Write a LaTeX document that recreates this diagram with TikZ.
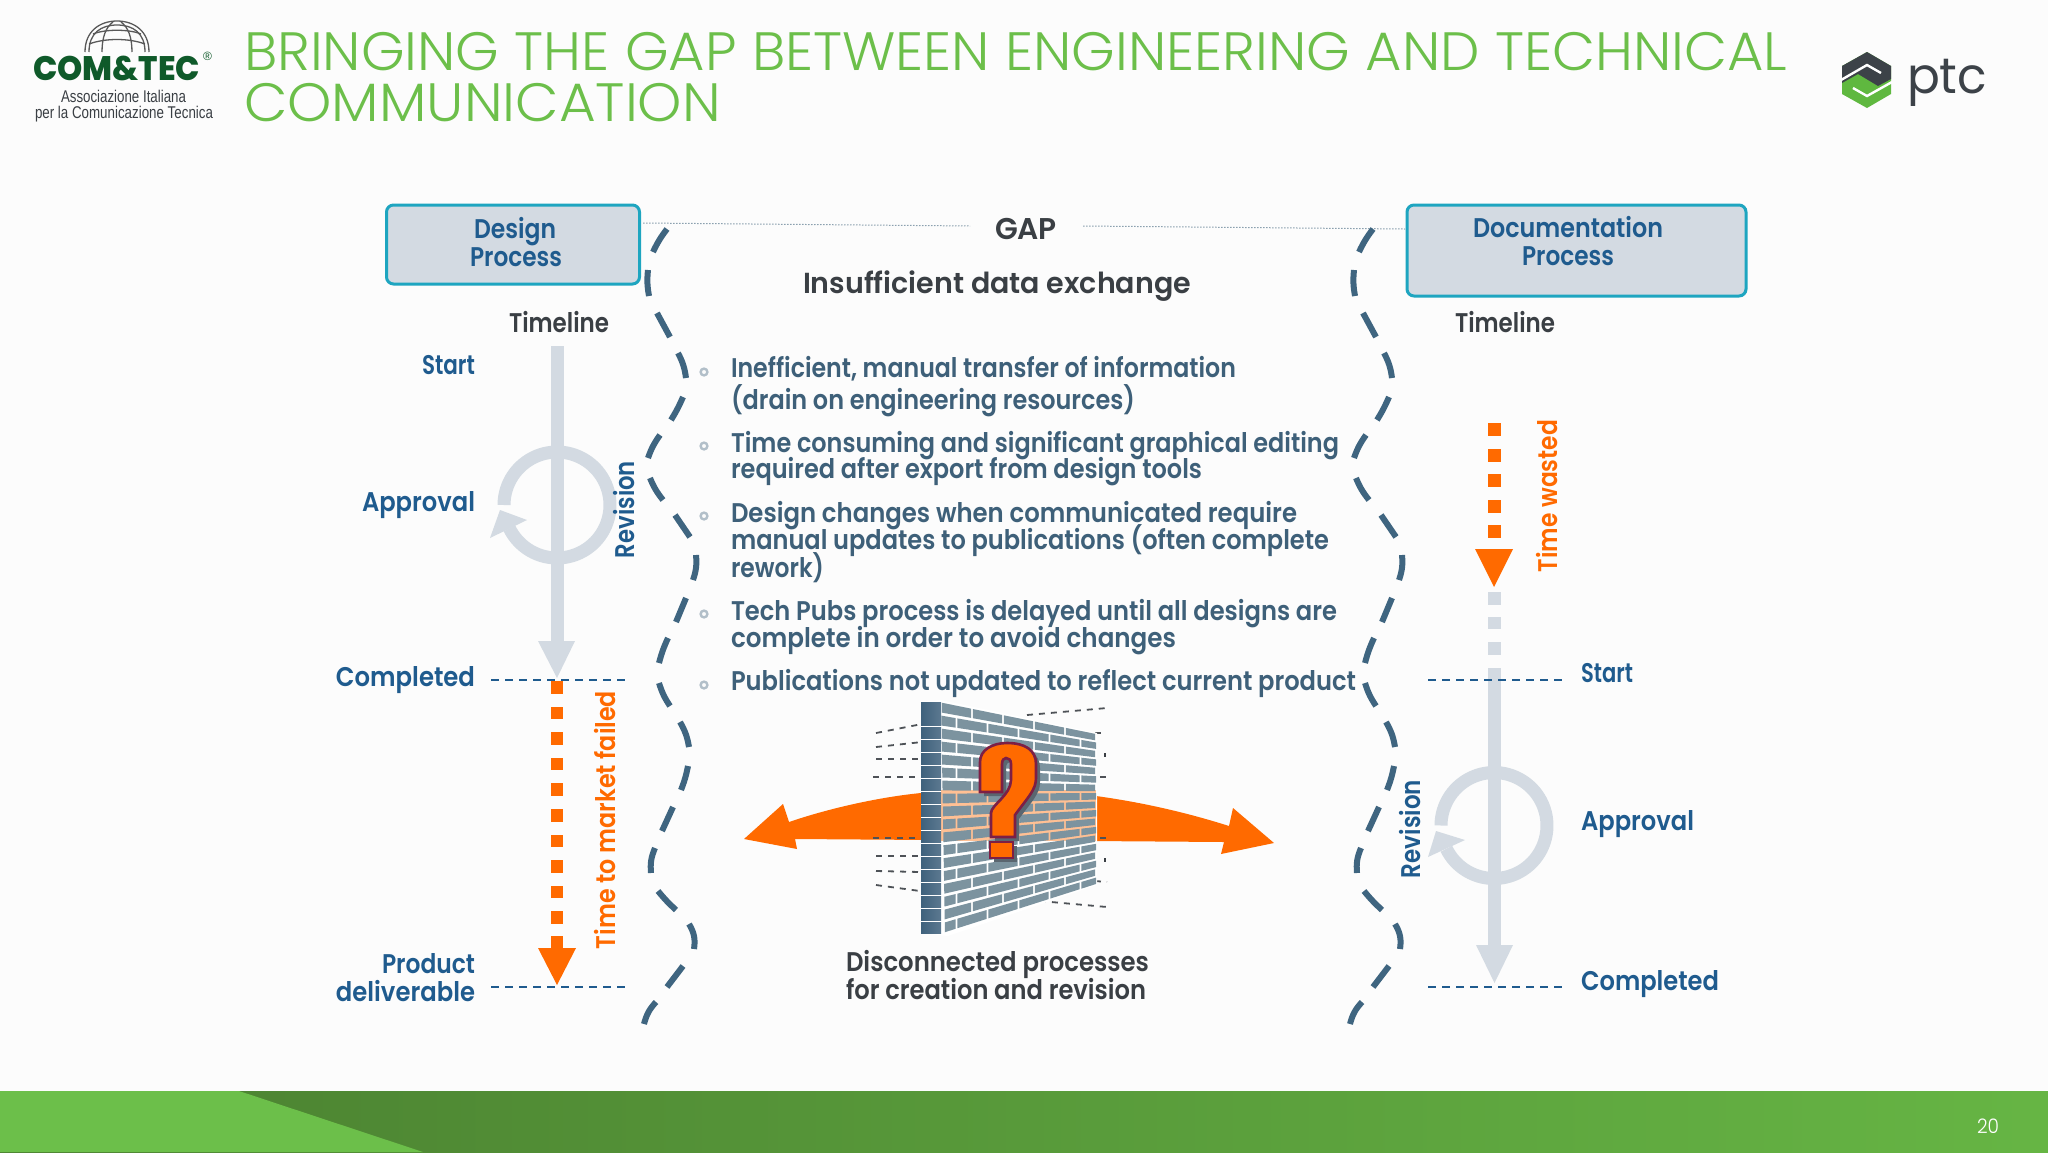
\documentclass[tikz,border=0pt]{standalone}
\usepackage{graphicx}
\usepackage{fontspec}
\setmainfont{Poppins}
\newfontfamily\medf{Poppins SemiBold}
\newfontfamily\lightf{Poppins Light}
\newfontfamily\logof{Liberation Sans}
\newfontfamily\logob{Poppins ExtraBold}
\definecolor{titlegreen}{HTML}{6CBF4A}
\definecolor{labelblue}{HTML}{1F5B8E}
\definecolor{bullettext}{HTML}{3E6079}
\definecolor{darktext}{HTML}{3A3F44}
\definecolor{orng}{HTML}{FF6A00}
\definecolor{lineg}{HTML}{D3DAE2}
\definecolor{teal}{HTML}{1EA5C0}
\definecolor{wavec}{HTML}{3F6580}
\definecolor{brickc}{HTML}{7C939F}
\definecolor{sidec}{HTML}{3F617C}
\definecolor{barL}{HTML}{4A7F30}
\definecolor{barR}{HTML}{66B544}
\definecolor{logog}{HTML}{0F5A2A}
\definecolor{ptcdark}{HTML}{3C4248}
\definecolor{ptcgreen}{HTML}{5FB83F}
\definecolor{qmline}{HTML}{7D1F45}
\definecolor{qmshadow}{HTML}{5A6670}
\newcommand{\fitw}[3]{\resizebox{#1pt}{\height}{\fontsize{#2}{#2}\selectfont #3}}
\tikzset{
  tl/.style={inner sep=0,outer sep=0,anchor=base west},
  lab/.style={tl,text=labelblue,font=\medf},
  bul/.style={tl,text=bullettext,font=\medf},
  drk/.style={tl,text=darktext,font=\medf},
  org/.style={tl,text=orng,font=\medf,rotate=90},
  blr/.style={tl,text=labelblue,font=\medf,rotate=90},
  ttl/.style={tl,text=titlegreen,font=\lightf},
  pbox/.style={draw=teal,line width=3pt,fill=lineg,rounded corners=7pt,inner sep=0,minimum height=0},
  wave/.style={draw=wavec,line width=6pt},
  tdash/.style={draw=labelblue,line width=1.6pt,dash pattern=on 8pt off 6pt},
  wdash/.style={draw=darktext!90,line width=1.8pt,dash pattern=on 6pt off 6pt},
  gapline/.style={draw=bullettext!60,line width=1pt,dash pattern=on 1.5pt off 1.5pt},
  ring/.style={draw=lineg,line width=13pt},
  bulring/.style={draw=bullettext!40,line width=2.4pt}
}
\begin{document}
\begin{tikzpicture}[x=1pt,y=-1pt]
\useasboundingbox (0,0) rectangle (2048,1152);
\fill[white!99!black] (0,0) rectangle (2048,1152);

% footer
\shade[left color=barL,right color=barR] (0,1091) rectangle (2048,1152);
\fill[titlegreen] (0,1091) -- (239,1091) -- (423,1152) -- (0,1152) -- cycle;
\node[tl,text=white,font=\lightf] (pageno) at (1977,1133) {\fitw{22}{20}{20}};

% title
\node[ttl] (title1) at (244,70) {\fitw{1543}{54}{BRINGING THE GAP BETWEEN ENGINEERING AND TECHNICAL}};
\node[ttl] (title2) at (244,121) {\fitw{477}{54}{COMMUNICATION}};

% COM&TEC logo
\begin{scope}[draw=black!65,line width=1.3pt]
\draw (85,52) .. controls (85,31) and (100,21) .. (117,21) .. controls (134,21) and (149,31) .. (149,52);
\draw (89,52) .. controls (89,33) and (101,25) .. (117,25) .. controls (133,25) and (145,33) .. (145,52);
\draw (102,52) .. controls (102,37) and (106,27) .. (113,22);
\draw (132,52) .. controls (132,37) and (128,27) .. (121,22);
\draw (93,34) .. controls (105,29) and (129,29) .. (141,34);
\draw (89,44) .. controls (105,38) and (129,38) .. (145,44);
\end{scope}
\node[tl,text=logog,font=\logob] (com) at (33,80) {\fitw{167}{34}{COM\&TEC}};
\node[tl,text=logog,font=\logof] (reg) at (203,60) {\fontsize{12}{12}\selectfont\char"00AE};
\node[tl,text=darktext,font=\logof] (assoc) at (61,102) {\fitw{125}{17}{Associazione Italiana}};
\node[tl,text=darktext,font=\logof] (perla) at (35,118.5) {\fitw{178}{17}{per la Comunicazione Tecnica}};

% ptc logo
\fill[ptcgreen] (1867,52) -- (1891,66) -- (1891,94) -- (1867,108) -- (1842,94) -- (1842,66) -- cycle;
\fill[ptcdark] (1867,52) -- (1891,66) -- (1891,79) -- (1878,86) -- (1858,74) -- (1842,83) -- (1842,66) -- cycle;
\draw[white,line width=2.4pt] (1841,80) -- (1867,65) -- (1881,73);
\draw[white,line width=2.4pt] (1853,88) -- (1867,96) -- (1892,82);
\node[tl,text=ptcdark,font=\rmfamily] (ptc) at (1907,93) {\fitw{80}{50}{ptc}};

% process boxes
\node[pbox,minimum width=253pt,minimum height=79pt] (designbox) at (513,244.5) {};
\node[pbox,minimum width=339pt,minimum height=91pt] (docbox) at (1576.5,250.5) {};
\node[lab] (d1) at (474,238) {\fitw{82}{27}{Design}};
\node[lab] (d2) at (470,266) {\fitw{92}{27}{Process}};
\node[lab] (d3) at (1473,237) {\fitw{190}{27}{Documentation}};
\node[lab] (d4) at (1522,265) {\fitw{92}{27}{Process}};

% gap
\draw[gapline] (643,223) -- (970,226);
\draw[gapline] (1083,226) -- (1405,229);
\node[drk] (gap) at (995,239) {\fitw{62}{30}{GAP}};
\node[drk] (insuf) at (803,293) {\fitw{388}{29}{Insufficient data exchange}};

% waves
\foreach \dx in {0,706}{
\begin{scope}[xshift=\dx pt]
\foreach \xa/\ya/\xb/\yb/\bn in {
667/229/653/252/-6,648/270/649/296/-8,657/313/670/337/0,678/353/686/378/10,
683/397/671/420/4,660/435/648/458/-8,650/478/663/500/-8,675/515/690/537/0,
696/555/693/580/12,686/598/676/622/0,668/638/659/663/-5,659/683/670/706/-8,
680/722/689/747/10,688/766/681/790/5,673/807/662/831/0,655/848/651/873/-14,
658/891/676/910/-4,689/924/694/949/20,683/966/667/987/0,656/1002/644/1024/-14}{
  \draw[wave] (\xa,\ya) to[bend left=\bn] (\xb,\yb);
}
\end{scope}}

% left timeline
\node[drk] (tll) at (509,332) {\fitw{100}{27}{Timeline}};
\draw[lineg,line width=13pt] (557,346) -- (557,642);
\fill[lineg] (538,641) -- (575,641) -- (557,678) -- cycle;
\draw[ring] plot[domain=180:514,samples=80,smooth,variable=\t] ({557+53*cos(\t)},{505+53*sin(\t)});
\fill[lineg] (500,510) -- (527,520) -- (490,538) -- cycle;
\node[lab,anchor=base east] (s1) at (475,374) {\fitw{53}{27}{Start}};
\node[lab,anchor=base east] (a1) at (475,511) {\fitw{113}{27}{Approval}};
\node[lab,anchor=base east] (c1) at (475,686) {\fitw{139}{27}{Completed}};
\node[lab,anchor=base east] (p1) at (475,973) {\fitw{93}{27}{Product}};
\node[lab,anchor=base east] (p2) at (475,1001) {\fitw{139}{27}{deliverable}};
\node[blr] (r1) at (634,558) {\fitw{97}{27}{Revision}};
\draw[tdash] (491,680) -- (626,680);
\draw[tdash] (491,987) -- (626,987);
\foreach \i in {0,...,9}{
  \fill[orng] (550.5,{681+25.6*\i}) rectangle (563,{681+25.6*\i+12.5});
}
\fill[orng] (550.5,936) rectangle (563,949);
\fill[orng] (538,948) -- (576,948) -- (557,985) -- cycle;
\node[org] (t1) at (615,949) {\fitw{258}{27}{Time to market failed}};

% right timeline
\node[drk] (tlr) at (1455,332) {\fitw{100}{27}{Timeline}};
\foreach \i in {0,...,4}{
  \fill[orng] (1488,{423+25.5*\i}) rectangle (1501,{423+25.5*\i+13});
}
\fill[orng] (1475,549) -- (1513,549) -- (1494,587) -- cycle;
\node[org] (t2) at (1557,572) {\fitw{152}{27}{Time wasted}};
\foreach \y in {592,616.5,642}{
  \fill[lineg] (1488,\y) rectangle (1501,\y+12.5);
}
\draw[lineg,line width=13pt] (1494.5,668) -- (1494.5,946);
\fill[lineg] (1476,945) -- (1513,945) -- (1494.5,983) -- cycle;
\draw[ring] plot[domain=180:514,samples=80,smooth,variable=\t] ({1494+53*cos(\t)},{825.5+53*sin(\t)});
\fill[lineg] (1436,831) -- (1465,840) -- (1428,857) -- cycle;
\draw[tdash] (1428,680) -- (1563,680);
\draw[tdash] (1428,987) -- (1563,987);
\node[lab] (s2) at (1581,682) {\fitw{52}{27}{Start}};
\node[lab] (a2) at (1581,830) {\fitw{113}{27}{Approval}};
\node[lab] (c2) at (1581,990) {\fitw{138}{27}{Completed}};
\node[blr] (r2) at (1420,878) {\fitw{98}{27}{Revision}};

% bullets
\foreach \y in {372,446,516,614,685}{
  \draw[bulring] (704,\y) circle (3.4pt);
}
\node[bul] (b1) at (731,377) {\fitw{505}{27}{Inefficient, manual transfer of information}};
\node[bul] (b2) at (731,409) {\fitw{404}{27}{(drain on engineering resources)}};
\node[bul] (b3) at (731,452) {\fitw{608}{27}{Time consuming and significant graphical editing}};
\node[bul] (b4) at (731,478) {\fitw{471}{27}{required after export from design tools}};
\node[bul] (b5) at (731,522) {\fitw{566}{27}{Design changes when communicated require}};
\node[bul] (b6) at (731,549) {\fitw{598}{27}{manual updates to publications (often complete}};
\node[bul] (b7) at (731,577) {\fitw{93}{27}{rework)}};
\node[bul] (b8) at (731,620) {\fitw{606}{27}{Tech Pubs process is delayed until all designs are}};
\node[bul] (b9) at (731,647) {\fitw{445}{27}{complete in order to avoid changes}};
\node[bul] (b10) at (731,690) {\fitw{625}{27}{Publications not updated to reflect current product}};

% orange arrows behind wall
\fill[orng] (744,839) -- (783,804) -- (789,822) .. controls (830,808) and (880,797) .. (921,793) -- (930,793) -- (930,840) -- (795,839) -- (797,849) -- cycle;
\fill[orng] (1274,843) -- (1233,808) -- (1229,826) .. controls (1185,812) and (1140,802) .. (1096,796) -- (1090,796) -- (1090,841) -- (1224,842) -- (1221,854) -- cycle;

% dashes around wall
\foreach \xa/\ya/\xb/\yb in {876/733/922/724,876/747/922/742,876/759/920/759,873/777/920/777,873/838/920/838,876/856/920/856,876/871/920/872,876/885/920/891,
1027/715/1107/708,1095/733/1107/733,1100/777/1107/777,1100/838/1107/838,1083/880/1107/882,1040/901/1107/907}{
  \draw[wdash] (\xa,\ya) -- (\xb,\yb);
}
\fill[darktext] (1104,753) rectangle (1106,757);
\fill[darktext] (1104,858) rectangle (1106,862);

% wall
\fill[white] (921,701) -- (941,700) -- (1097,733) -- (1097,885) -- (948,936) -- (921,933) -- cycle;
\fill[orng,opacity=0.42] (941,790) rectangle (1096,841);
\foreach \r in {0,...,17}{
  \shade[left color=sidec,right color=sidec!85!white] (921,{702+12.95*\r}) rectangle (941,{702+12.95*\r+11});
}
\begin{scope}
\clip (941,700) -- (1096,733) -- (1096,885) -- (945,936) -- cycle;
\foreach \r in {0,...,17}{
  \pgfmathsetmacro\va{(\r+0.12)/18}
  \pgfmathsetmacro\vb{(\r+0.88)/18}
  \pgfmathsetmacro\off{mod(\r,2)*0.5}
  \foreach \c in {-1,...,5}{
    \pgfmathsetmacro\ua{(\c+\off+0.03)/5}
    \pgfmathsetmacro\ub{(\c+\off+0.97)/5}
    \fill[brickc] ({941+155*\ua},{701+32*\ua+\va*(234-82*\ua)})
      -- ({941+155*\ub},{701+32*\ub+\va*(234-82*\ub)})
      -- ({941+155*\ub},{701+32*\ub+\vb*(234-82*\ub)})
      -- ({941+155*\ua},{701+32*\ua+\vb*(234-82*\ua)}) -- cycle;
  }
}
\end{scope}

% question mark
\begin{scope}[xshift=4pt,yshift=-4pt]
\fill[qmshadow] (980,792) -- (980,762) .. controls (980,750) and (992,743) .. (1007,743) .. controls (1025,743) and (1036,750) .. (1036,764) -- (1036,778) .. controls (1036,790) and (1028,797) .. (1015,815) -- (1015,837) -- (991,837) -- (991,813) .. controls (991,805) and (1011,795) .. (1011,780) -- (1011,764) .. controls (1011,760) and (1009,758) .. (1006,758) .. controls (1004,758) and (1002,760) .. (1002,764) -- (1002,792) -- cycle;
\fill[qmshadow] (990,842) rectangle (1013,858);
\end{scope}
\filldraw[fill=orng,draw=qmline,line width=2.6pt] (980,792) -- (980,762) .. controls (980,750) and (992,743) .. (1007,743) .. controls (1025,743) and (1036,750) .. (1036,764) -- (1036,778) .. controls (1036,790) and (1028,797) .. (1015,815) -- (1015,837) -- (991,837) -- (991,813) .. controls (991,805) and (1011,795) .. (1011,780) -- (1011,764) .. controls (1011,760) and (1009,758) .. (1006,758) .. controls (1004,758) and (1002,760) .. (1002,764) -- (1002,792) -- cycle;
\filldraw[fill=orng,draw=qmline,line width=2.6pt] (990,842) rectangle (1013,858);

% caption
\node[drk] (cap1) at (846,971) {\fitw{303}{27}{Disconnected processes}};
\node[drk] (cap2) at (846,999) {\fitw{300}{27}{for creation and revision}};
\end{tikzpicture}
\end{document}
